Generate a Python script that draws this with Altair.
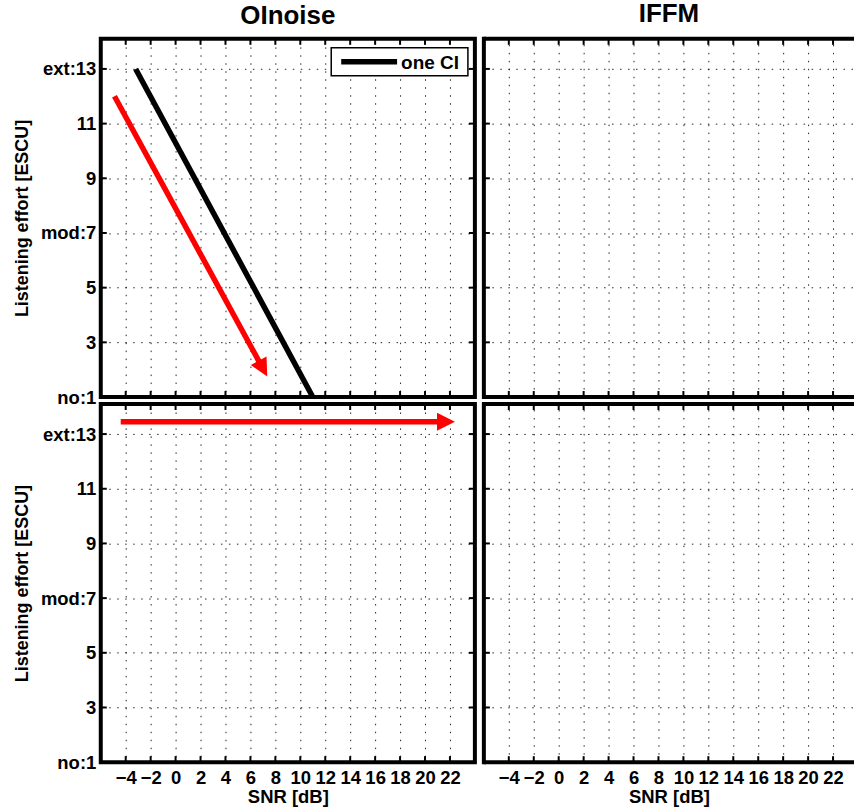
import math
import altair as alt
import pandas as pd

FONT = "Liberation Sans"

# ---------------- data ----------------
panel_titles = ["OInoise", "IFFM"]
x_ticks = [-4, -2, 0, 2, 4, 6, 8, 10, 12, 14, 16, 18, 20, 22]
y_ticks = [1, 3, 5, 7, 9, 11, 13]
y_tick_labels = ["no:1", "3", "5", "mod:7", "9", "11", "ext:13"]
x_title = "SNR [dB]"
y_title = "Listening effort [ESCU]"

ci_name = ["one CI"]
ci_snr = [-3.2, 11.0]
ci_effort = [13.0, 1.0]

arrow_top_snr = [-4.9, 7.35]
arrow_top_effort = [12.0, 1.75]
arrow_bot_snr = [-4.4, 22.4]
arrow_bot_effort = [13.45, 13.45]

# ---------------- layout ----------------
X_DOMAIN = [-6, 24]
Y_DOMAIN = [1, 14.1]
W_LEFT = 375
W_RIGHT = 371
H = 359
TICK = 6
PX_PER_X = W_LEFT / (X_DOMAIN[1] - X_DOMAIN[0])
PX_PER_Y = H / (Y_DOMAIN[1] - Y_DOMAIN[0])
X_DOMAIN_RIGHT = [X_DOMAIN[0], X_DOMAIN[0] + W_RIGHT / PX_PER_X]
HEAD = 18  # arrow head length in px

xt_df = pd.DataFrame({"snr": x_ticks})
yt_df = pd.DataFrame({"effort": y_ticks})
one_df = pd.DataFrame({"k": [0]})

label_expr = "datum.label"
for v, lab in zip(reversed(y_ticks), reversed(y_tick_labels)):
    label_expr = f"datum.value == {v} ? '{lab}' : ({label_expr})"


def x_axis(show):
    if show:
        return alt.Axis(values=x_ticks, labels=True, ticks=False, domain=False, grid=True,
                        title=x_title, labelFontSize=18.5, labelFontWeight="bold",
                        titleFontSize=18.5, titleFontWeight="bold", labelPadding=6,
                        titlePadding=1, labelOverlap=False, labelFlush=False,
                        labelColor="black", titleColor="black")
    return alt.Axis(values=x_ticks, labels=False, ticks=False, domain=False, grid=True,
                    title=None, minExtent=0, maxExtent=0)


def y_axis(show):
    if show:
        return alt.Axis(values=y_ticks, labelExpr=label_expr, ticks=False, domain=False,
                        grid=True, title=y_title, labelFontSize=18.5, labelFontWeight="bold",
                        titleFontSize=18, titleFontWeight="bold", labelPadding=5,
                        titlePadding=9, minExtent=60, maxExtent=60,
                        labelColor="black", titleColor="black")
    return alt.Axis(values=y_ticks, labels=False, ticks=False, domain=False, grid=True,
                    title=None, minExtent=0, maxExtent=0)


def arrow_layers(snr, effort, X, Y, name):
    dx = (snr[1] - snr[0]) * PX_PER_X
    dy = (effort[1] - effort[0]) * PX_PER_Y
    L = math.hypot(dx, dy)
    ang = math.degrees(math.atan2(dx, dy)) % 360
    frac = (HEAD * 0.5) / L
    shaft_df = pd.DataFrame({
        "snr": [snr[0], snr[1] - (snr[1] - snr[0]) * frac],
        "effort": [effort[0], effort[1] - (effort[1] - effort[0]) * frac],
        "arrow": [name, name],
    })
    head_df = pd.DataFrame({"snr": [snr[1]], "effort": [effort[1]], "angle": [ang]})
    shaft = alt.Chart(shaft_df).mark_line(color="#ff0000", strokeWidth=5.5, strokeCap="butt").encode(
        x=X(), y=Y(), detail="arrow:N")
    head = alt.Chart(head_df).mark_point(
        shape="M0,0L-1,2L1,2Z", filled=True, size=(HEAD ** 2), color="#ff0000",
        opacity=1, strokeWidth=0).encode(
        x=X(), y=Y(), angle=alt.Angle("angle:Q", scale=None))
    return [shaft, head]


def panel(col, row):
    right = col == 1
    bottom = row == 1
    W = W_RIGHT if right else W_LEFT
    xa = x_axis(bottom)
    ya = y_axis(not right)
    xs = alt.Scale(domain=X_DOMAIN_RIGHT if right else X_DOMAIN, nice=False, zero=False)
    ys = alt.Scale(domain=Y_DOMAIN, nice=False, zero=False)

    def X():
        return alt.X("snr:Q", scale=xs, axis=xa)

    def Y():
        return alt.Y("effort:Q", scale=ys, axis=ya)

    tk = dict(color="black", strokeWidth=2)
    layers = [
        alt.Chart(xt_df).mark_rule(**tk).encode(x=X(), y=alt.value(0), y2=alt.value(TICK)),
        alt.Chart(xt_df).mark_rule(**tk).encode(x=X(), y=alt.value(H - TICK), y2=alt.value(H)),
        alt.Chart(yt_df).mark_rule(**tk).encode(y=Y(), x=alt.value(0), x2=alt.value(TICK)),
    ]
    if not right:
        layers.append(alt.Chart(yt_df).mark_rule(**tk).encode(
            y=Y(), x=alt.value(W - TICK), x2=alt.value(W)))
    else:
        bd = dict(color="black", strokeWidth=4)
        layers += [
            alt.Chart(one_df).mark_rule(strokeCap="square", **bd).encode(
                x=alt.value(0), y=alt.value(0), y2=alt.value(H)),
            alt.Chart(one_df).mark_rule(strokeCap="butt", **bd).encode(
                x=alt.value(0), x2=alt.value(W), y=alt.value(0)),
            alt.Chart(one_df).mark_rule(strokeCap="butt", **bd).encode(
                x=alt.value(0), x2=alt.value(W), y=alt.value(H)),
        ]

    if col == 0 and row == 0:
        ci_df = pd.DataFrame({"snr": ci_snr, "effort": ci_effort, "series": ci_name * len(ci_snr)})
        layers.append(alt.Chart(ci_df).mark_line(color="black", strokeWidth=5.5, strokeCap="butt").encode(
            x=X(), y=Y(), detail="series:N"))
        layers += arrow_layers(arrow_top_snr, arrow_top_effort, X, Y, "a1")
        # legend box
        leg_df = pd.DataFrame({"name": ci_name})
        layers += [
            alt.Chart(one_df).mark_rect(fill="white", stroke="black", strokeWidth=1.5).encode(
                x=alt.value(231), x2=alt.value(368), y=alt.value(9), y2=alt.value(37)),
            alt.Chart(one_df).mark_rule(color="black", strokeWidth=5.5).encode(
                x=alt.value(241), x2=alt.value(297), y=alt.value(23)),
            alt.Chart(leg_df).mark_text(align="left", baseline="middle", fontSize=19,
                                        fontWeight="bold", color="black").encode(
                x=alt.value(301), y=alt.value(24), text="name:N"),
        ]
    if col == 0 and row == 1:
        layers += arrow_layers(arrow_bot_snr, arrow_bot_effort, X, Y, "a2")

    ch = alt.layer(*layers).properties(width=W, height=H)
    if right:
        ch = ch.properties(view=alt.ViewBackground(strokeWidth=0))
    if row == 0:
        ch = ch.properties(title=alt.TitleParams(
            panel_titles[col], fontSize=26, fontWeight="bold", anchor="middle",
            frame="group", baseline="alphabetic", offset=-12, color="black"))
    return ch


chart = alt.concat(
    panel(0, 0), panel(1, 0), panel(0, 1), panel(1, 1),
    columns=2, spacing={"row": 7, "column": 9}, bounds="flush"
).configure(
    font=FONT, padding={"left": 12, "top": 0, "right": 0, "bottom": 0}
).configure_view(stroke="black", strokeWidth=4).configure_axis(
    gridColor="black", gridDash=[1.5, 6.5], gridWidth=1, gridOpacity=0.85
).configure_title(font=FONT)

chart.save("out.html", embed_options={"renderer": "svg", "actions": False})
